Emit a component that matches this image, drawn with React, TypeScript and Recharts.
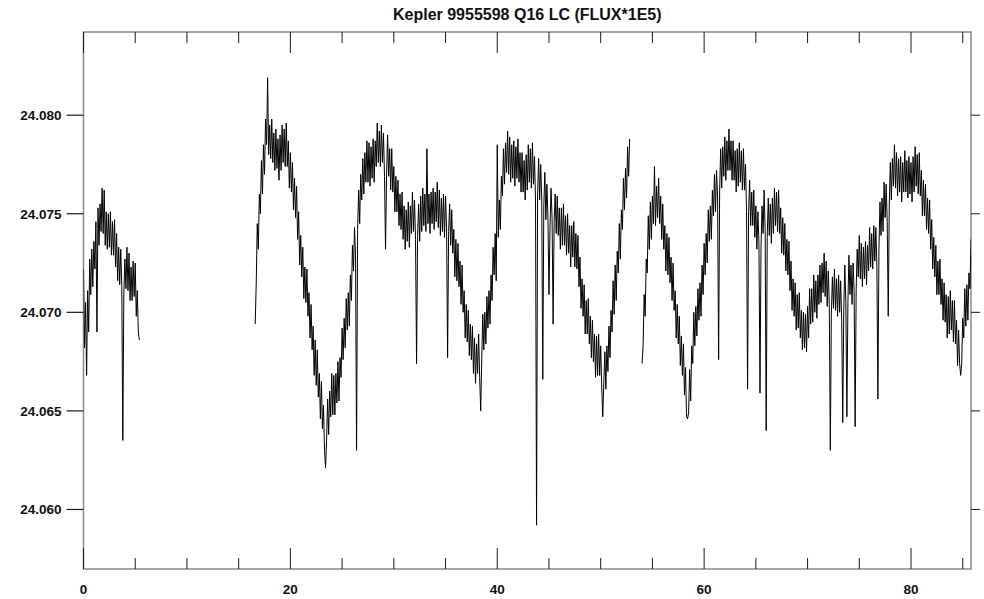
import React from 'react';
import { LineChart, Line, XAxis, YAxis, ReferenceArea } from 'recharts';

// Samples 0.1 d apart within each segment
const CADENCE = 0.1;

const seg1Start = 0;
const seg2Start = 16.6;
const seg3Start = 54.0;

const seg1Flux = [
  24.0722, 24.0682, 24.0705, 24.0668, 24.0711, 24.0690, 24.0727, 24.0709, 24.0732, 24.0713,
  24.0736, 24.0722, 24.0746, 24.0690, 24.0753, 24.0734, 24.0755, 24.0741, 24.0763, 24.0740,
  24.0762, 24.0734, 24.0751, 24.0732, 24.0750, 24.0733, 24.0751, 24.0729, 24.0746, 24.0729,
  24.0747, 24.0723, 24.0740, 24.0716, 24.0733, 24.0714, 24.0732, 24.0714, 24.0635, 24.0709,
  24.0727, 24.0712, 24.0733, 24.0711, 24.0730, 24.0706, 24.0723, 24.0706, 24.0726, 24.0708,
  24.0725, 24.0698, 24.0711, 24.0690, 24.0686,
];

const seg2Flux = [
  24.0694, 24.0715, 24.0745, 24.0732, 24.0760, 24.0750, 24.0777, 24.0760, 24.0785, 24.0770,
  24.0798, 24.0785, 24.0819, 24.0780, 24.0795, 24.0778, 24.0798, 24.0776, 24.0791, 24.0772,
  24.0793, 24.0773, 24.0788, 24.0767, 24.0790, 24.0772, 24.0795, 24.0776, 24.0793, 24.0774,
  24.0796, 24.0774, 24.0787, 24.0763, 24.0781, 24.0761, 24.0776, 24.0752, 24.0768, 24.0748,
  24.0764, 24.0737, 24.0751, 24.0724, 24.0739, 24.0718, 24.0733, 24.0707, 24.0723, 24.0705,
  24.0722, 24.0698, 24.0710, 24.0687, 24.0704, 24.0681, 24.0693, 24.0668, 24.0686, 24.0663,
  24.0681, 24.0657, 24.0669, 24.0646, 24.0665, 24.0641, 24.0653, 24.0630, 24.0621, 24.0635,
  24.0656, 24.0638, 24.0660, 24.0647, 24.0669, 24.0648, 24.0668, 24.0648, 24.0669, 24.0654,
  24.0675, 24.0655, 24.0677, 24.0667, 24.0692, 24.0676, 24.0697, 24.0682, 24.0707, 24.0691,
  24.0710, 24.0693, 24.0719, 24.0706, 24.0734, 24.0721, 24.0743, 24.0729, 24.0630, 24.0742,
  24.0762, 24.0745, 24.0770, 24.0757, 24.0778, 24.0760, 24.0781, 24.0766, 24.0787, 24.0766,
  24.0786, 24.0764, 24.0784, 24.0768, 24.0788, 24.0766, 24.0787, 24.0774, 24.0796, 24.0776,
  24.0792, 24.0774, 24.0795, 24.0776, 24.0791, 24.0769, 24.0732, 24.0770, 24.0790, 24.0769,
  24.0783, 24.0762, 24.0783, 24.0761, 24.0774, 24.0751, 24.0769, 24.0751, 24.0767, 24.0744,
  24.0760, 24.0742, 24.0761, 24.0737, 24.0754, 24.0732, 24.0752, 24.0736, 24.0756, 24.0733,
  24.0754, 24.0740, 24.0761, 24.0741, 24.0757, 24.0737, 24.0674, 24.0739, 24.0755, 24.0736,
  24.0759, 24.0741, 24.0763, 24.0744, 24.0760, 24.0741, 24.0783, 24.0745, 24.0760, 24.0740,
  24.0761, 24.0745, 24.0763, 24.0742, 24.0761, 24.0746, 24.0766, 24.0743, 24.0762, 24.0739,
  24.0758, 24.0741, 24.0760, 24.0738, 24.0759, 24.0743, 24.0677, 24.0741, 24.0755, 24.0734,
  24.0752, 24.0730, 24.0742, 24.0718, 24.0737, 24.0716, 24.0735, 24.0713, 24.0726, 24.0704,
  24.0724, 24.0700, 24.0711, 24.0687, 24.0704, 24.0685, 24.0701, 24.0678, 24.0694, 24.0676,
  24.0693, 24.0669, 24.0687, 24.0664, 24.0684, 24.0669, 24.0689, 24.0667, 24.0650, 24.0676,
  24.0699, 24.0681, 24.0700, 24.0684, 24.0708, 24.0692, 24.0711, 24.0694, 24.0719, 24.0706,
  24.0733, 24.0719, 24.0740, 24.0716, 24.0785, 24.0738, 24.0757, 24.0742, 24.0769, 24.0759,
  24.0783, 24.0765, 24.0786, 24.0771, 24.0792, 24.0770, 24.0789, 24.0766, 24.0785, 24.0768,
  24.0787, 24.0764, 24.0784, 24.0768, 24.0788, 24.0766, 24.0781, 24.0761, 24.0781, 24.0761,
  24.0777, 24.0757, 24.0780, 24.0762, 24.0785, 24.0766, 24.0783, 24.0763, 24.0786, 24.0765,
  24.0779, 24.0757, 24.0592, 24.0760, 24.0778, 24.0757, 24.0775, 24.0758, 24.0666, 24.0754,
  24.0771, 24.0747, 24.0765, 24.0748, 24.0709, 24.0743, 24.0763, 24.0748, 24.0694, 24.0746,
  24.0760, 24.0740, 24.0759, 24.0739, 24.0753, 24.0732, 24.0753, 24.0734, 24.0755, 24.0734,
  24.0749, 24.0729, 24.0750, 24.0730, 24.0744, 24.0723, 24.0744, 24.0728, 24.0746, 24.0723,
  24.0740, 24.0722, 24.0739, 24.0713, 24.0728, 24.0702, 24.0717, 24.0698, 24.0714, 24.0689,
  24.0706, 24.0689, 24.0707, 24.0684, 24.0698, 24.0677, 24.0696, 24.0675, 24.0689, 24.0667,
  24.0688, 24.0668, 24.0689, 24.0668, 24.0683, 24.0662, 24.0647, 24.0664, 24.0680, 24.0661,
  24.0683, 24.0670, 24.0693, 24.0677, 24.0701, 24.0690, 24.0716, 24.0699, 24.0724, 24.0706,
  24.0731, 24.0720, 24.0745, 24.0727, 24.0752, 24.0742, 24.0768, 24.0752, 24.0773, 24.0758,
  24.0784, 24.0769, 24.0788,
];

const seg3Flux = [
  24.0674, 24.0683, 24.0709, 24.0698, 24.0727, 24.0720, 24.0749, 24.0732, 24.0756, 24.0737,
  24.0759, 24.0745, 24.0774, 24.0744, 24.0764, 24.0748, 24.0768, 24.0745, 24.0759, 24.0737,
  24.0755, 24.0732, 24.0744, 24.0721, 24.0740, 24.0719, 24.0738, 24.0715, 24.0728, 24.0706,
  24.0725, 24.0701, 24.0711, 24.0687, 24.0704, 24.0684, 24.0698, 24.0673, 24.0688, 24.0668,
  24.0684, 24.0658, 24.0672, 24.0647, 24.0646, 24.0649, 24.0671, 24.0655, 24.0683, 24.0674,
  24.0700, 24.0683, 24.0703, 24.0688, 24.0712, 24.0696, 24.0715, 24.0698, 24.0724, 24.0709,
  24.0735, 24.0719, 24.0740, 24.0725, 24.0752, 24.0736, 24.0754, 24.0737, 24.0762, 24.0749,
  24.0770, 24.0751, 24.0772, 24.0759, 24.0676, 24.0762, 24.0783, 24.0763, 24.0784, 24.0769,
  24.0789, 24.0767, 24.0787, 24.0772, 24.0793, 24.0772, 24.0787, 24.0767, 24.0787, 24.0767,
  24.0782, 24.0761, 24.0783, 24.0764, 24.0786, 24.0766, 24.0782, 24.0762, 24.0783, 24.0762,
  24.0775, 24.0751, 24.0661, 24.0751, 24.0767, 24.0744, 24.0761, 24.0744, 24.0762, 24.0738,
  24.0754, 24.0732, 24.0751, 24.0735, 24.0659, 24.0733, 24.0754, 24.0740, 24.0762, 24.0742,
  24.0640, 24.0738, 24.0758, 24.0739, 24.0755, 24.0735, 24.0758, 24.0740, 24.0763, 24.0744,
  24.0761, 24.0741, 24.0762, 24.0740, 24.0753, 24.0730, 24.0748, 24.0729, 24.0745, 24.0721,
  24.0737, 24.0719, 24.0736, 24.0711, 24.0726, 24.0701, 24.0717, 24.0698, 24.0715, 24.0691,
  24.0709, 24.0692, 24.0710, 24.0687, 24.0701, 24.0681, 24.0700, 24.0682, 24.0699, 24.0680,
  24.0703, 24.0687, 24.0712, 24.0694, 24.0712, 24.0695, 24.0719, 24.0700, 24.0716, 24.0697,
  24.0719, 24.0704, 24.0724, 24.0705, 24.0725, 24.0710, 24.0730, 24.0708, 24.0726, 24.0703,
  24.0721, 24.0704, 24.0630, 24.0699, 24.0718, 24.0702, 24.0722, 24.0701, 24.0717, 24.0698,
  24.0719, 24.0700, 24.0716, 24.0696, 24.0644, 24.0701, 24.0724, 24.0705, 24.0647, 24.0705,
  24.0729, 24.0709, 24.0724, 24.0704, 24.0725, 24.0711, 24.0642, 24.0712, 24.0732, 24.0718,
  24.0739, 24.0717, 24.0735, 24.0713, 24.0733, 24.0717, 24.0736, 24.0714, 24.0734, 24.0721,
  24.0743, 24.0723, 24.0740, 24.0722, 24.0744, 24.0726, 24.0743, 24.0724, 24.0656, 24.0732,
  24.0756, 24.0739, 24.0758, 24.0741, 24.0766, 24.0748, 24.0765, 24.0746, 24.0698, 24.0755,
  24.0776, 24.0757, 24.0778, 24.0764, 24.0785, 24.0763, 24.0781, 24.0759, 24.0778, 24.0761,
  24.0779, 24.0756, 24.0776, 24.0761, 24.0782, 24.0761, 24.0777, 24.0758, 24.0779, 24.0760,
  24.0776, 24.0756, 24.0779, 24.0761, 24.0784, 24.0764, 24.0780, 24.0760, 24.0781, 24.0759,
  24.0772, 24.0749, 24.0767, 24.0749, 24.0765, 24.0742, 24.0758, 24.0740, 24.0757, 24.0732,
  24.0747, 24.0722, 24.0738, 24.0718, 24.0734, 24.0709, 24.0726, 24.0709, 24.0727, 24.0704,
  24.0717, 24.0696, 24.0715, 24.0695, 24.0709, 24.0687, 24.0708, 24.0689, 24.0711, 24.0691,
  24.0706, 24.0685, 24.0706, 24.0684, 24.0696, 24.0673, 24.0691, 24.0674, 24.0668, 24.0674,
  24.0697, 24.0687, 24.0712, 24.0693, 24.0714, 24.0696, 24.0720, 24.0712, 24.0737,
];

const xTicks = [0, 5, 10, 15, 20, 25, 30, 35, 40, 45, 50, 55, 60, 65, 70, 75, 80, 85];
const yTicks = [24.06, 24.065, 24.07, 24.075, 24.08];
const xDomain: [number, number] = [0, 85.8];
const yDomain: [number, number] = [24.05698, 24.08422];

const toPoints = (start: number, values: number[]) =>
  values.map((flux, i) => ({ t: +(start + i * CADENCE).toFixed(2), flux }));

// null rows break the line across the data gaps
const data = [
  ...toPoints(seg1Start, seg1Flux),
  { t: 10, flux: null },
  ...toPoints(seg2Start, seg2Flux),
  { t: 53.4, flux: null },
  ...toPoints(seg3Start, seg3Flux),
];

const CHART_W = 984;
const CHART_H = 599;
const MARGIN_TOP = 32;
const X_AXIS_H = 30;
const LEFT_W = 83.5;
const RIGHT_W = 13;
const PLOT_W = CHART_W - LEFT_W - RIGHT_W;
const PLOT_H = CHART_H - MARGIN_TOP - X_AXIS_H;

const FONT = '"Liberation Sans", Arial, Helvetica, sans-serif';
const TICK_COLOR = '#1a1a1a';
const FRAME_COLOR = '#8a8a8a';

// x ticks point into the plot from both the bottom and the top edge:
// long at the labelled days, short in between
const XTick = (props: any) => {
  const { x, y, payload } = props;
  const len = payload.value % 20 === 0 ? 21 : 11;
  const top = y - PLOT_H;
  return (
    <g>
      <line x1={x} x2={x} y1={y} y2={y - len} stroke={TICK_COLOR} strokeWidth={1} />
      <line x1={x} x2={x} y1={top} y2={top + len} stroke={TICK_COLOR} strokeWidth={1} />
      {payload.value % 20 === 0 && (
        <text x={x} y={y + 25} textAnchor="middle" fontFamily={FONT} fontWeight="bold" fontSize={13.5} fill="#111">
          {payload.value}
        </text>
      )}
    </g>
  );
};

// short outward ticks on the right edge
const RightTick = (props: any) => {
  const { x, y } = props;
  return <line x1={x} x2={x + 9} y1={y} y2={y} stroke={TICK_COLOR} strokeWidth={1} />;
};

const YLabel = (props: any) => {
  const { x, y, payload } = props;
  return (
    <text x={x} y={y + 5} textAnchor="end" fontFamily={FONT} fontWeight="bold" fontSize={13.5} fill="#111">
      {payload.value.toFixed(3)}
    </text>
  );
};

const App = () => {
  return (
    <div style={{ position: 'absolute', left: 0, top: 0, width: CHART_W, height: CHART_H, background: '#fff' }}>
      <div
        style={{
          position: 'absolute',
          left: LEFT_W,
          width: PLOT_W,
          top: 6,
          textAlign: 'center',
          fontFamily: FONT,
          fontWeight: 'bold',
          fontSize: 16,
          lineHeight: '18px',
          color: '#111',
        }}
      >
        Kepler 9955598 Q16 LC (FLUX*1E5)
      </div>
      <LineChart width={CHART_W} height={CHART_H} data={data} margin={{ top: MARGIN_TOP, right: 0, bottom: 0, left: 0 }}>
        <XAxis
          dataKey="t"
          type="number"
          domain={xDomain}
          ticks={xTicks}
          interval={0}
          height={X_AXIS_H}
          tickSize={0}
          tickMargin={0}
          tickLine={false}
          axisLine={false}
          tick={<XTick />}
          allowDataOverflow
        />
        <YAxis
          yAxisId="left"
          type="number"
          domain={yDomain}
          ticks={yTicks}
          interval={0}
          width={LEFT_W}
          tickSize={17}
          tickMargin={5}
          tickLine={{ stroke: TICK_COLOR, strokeWidth: 1.2 }}
          axisLine={false}
          tick={<YLabel />}
          allowDataOverflow
        />
        <YAxis
          yAxisId="right"
          orientation="right"
          type="number"
          domain={yDomain}
          ticks={yTicks}
          interval={0}
          width={RIGHT_W}
          tickSize={0}
          tickMargin={0}
          tickLine={false}
          axisLine={false}
          tick={<RightTick />}
          allowDataOverflow
        />
        {/* plot frame */}
        <ReferenceArea
          yAxisId="left"
          x1={xDomain[0]}
          x2={xDomain[1]}
          y1={yDomain[0]}
          y2={yDomain[1]}
          fill="none"
          stroke={FRAME_COLOR}
          strokeWidth={1.5}
          ifOverflow="visible"
        />
        <Line
          yAxisId="left"
          type="linear"
          dataKey="flux"
          stroke="#000"
          strokeWidth={1}
          dot={false}
          connectNulls={false}
          isAnimationActive={false}
        />
      </LineChart>
    </div>
  );
};

export default App;
